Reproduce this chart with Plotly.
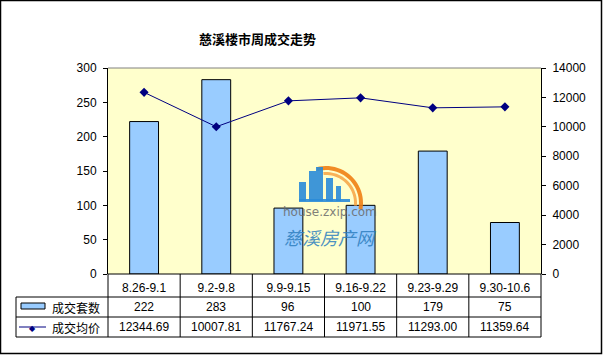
import plotly.graph_objects as go

categories = ["8.26-9.1", "9.2-9.8", "9.9-9.15", "9.16-9.22", "9.23-9.29", "9.30-10.6"]
units_sold = [222, 283, 96, 100, 179, 75]
avg_price = [12344.69, 10007.81, 11767.24, 11971.55, 11293.00, 11359.64]
price_labels = ["12344.69", "10007.81", "11767.24", "11971.55", "11293.00", "11359.64"]
series_names = ["成交套数", "成交均价"]
title_text = "慈溪楼市周成交走势"

W, H = 603, 355
L, R, T, B = 108, 541, 68, 274
NUM_FONT = "Liberation Sans, Arial, sans-serif"
CJK_FONT = "Noto Sans CJK SC, sans-serif"


def px(x):
    return (x - L) / (R - L)


def py(y):
    return (B - y) / (B - T)


fig = go.Figure()
fig.add_trace(go.Bar(
    x=categories, y=units_sold, name=series_names[0],
    marker=dict(color="#99CCFF", line=dict(color="#000000", width=1)),
    width=0.4, yaxis="y", showlegend=False,
))
fig.add_trace(go.Scatter(
    x=categories, y=avg_price, name=series_names[1], mode="lines+markers",
    line=dict(color="#000080", width=1),
    marker=dict(symbol="diamond", size=7, color="#000080"),
    yaxis="y2", showlegend=False,
))

shapes = []
# outer border
shapes.append(dict(type="rect", xref="paper", yref="paper", x0=px(0.5), x1=px(W - 1.5), y0=py(H - 1.5), y1=py(0.5),
                   line=dict(color="#000000", width=1.5), layer="below"))
# plot top border (gray)
shapes.append(dict(type="line", xref="paper", yref="paper", x0=0, x1=1, y0=1, y1=1,
                   line=dict(color="#808080", width=1)))
# table horizontal lines
row_y = [B, 297, 317, 337]
for i, yy in enumerate(row_y):
    x0 = L if i == 0 else 16
    shapes.append(dict(type="line", xref="paper", yref="paper", x0=px(x0), x1=px(R), y0=py(yy), y1=py(yy),
                       line=dict(color="#000000", width=1)))
# table vertical lines
n = len(categories)
for k in range(n + 1):
    xx = L + (R - L) * k / n
    shapes.append(dict(type="line", xref="paper", yref="paper", x0=px(xx), x1=px(xx), y0=py(B), y1=py(337),
                       line=dict(color="#000000", width=1)))
shapes.append(dict(type="line", xref="paper", yref="paper", x0=px(16), x1=px(16), y0=py(297), y1=py(337),
                   line=dict(color="#000000", width=1)))
# legend swatches
shapes.append(dict(type="rect", xref="paper", yref="paper", x0=px(21), x1=px(45), y0=py(309), y1=py(303),
                   fillcolor="#99CCFF", line=dict(color="#000000", width=1)))
shapes.append(dict(type="line", xref="paper", yref="paper", x0=px(19), x1=px(46), y0=py(327), y1=py(327),
                   line=dict(color="#000080", width=1)))

# watermark logo (decorative): orange arc + blue buildings
def arc_path(cx, cy, r_out, r_in, a0, a1, steps=24):
    import math
    pts_o = []
    pts_i = []
    for s in range(steps + 1):
        a = math.radians(a0 + (a1 - a0) * s / steps)
        pts_o.append((px(cx + r_out * math.cos(a)), py(cy - r_out * math.sin(a))))
        pts_i.append((px(cx + r_in * math.cos(a)), py(cy - r_in * math.sin(a))))
    pts = pts_o + pts_i[::-1]
    return "M " + " L ".join(f"{x:.5f},{y:.5f}" for x, y in pts) + " Z"

shapes.append(dict(type="path", xref="paper", yref="paper", path=arc_path(326, 203, 37, 33, -10, 105),
                   fillcolor="#F07F14", line=dict(width=0), opacity=0.9))
shapes.append(dict(type="path", xref="paper", yref="paper", path=arc_path(326, 203, 31, 28, -5, 95),
                   fillcolor="#F7A94A", line=dict(width=0), opacity=0.9))
for (x0, x1, y0, y1) in [(299, 306, 182, 201), (309, 316, 171, 201), (316, 323, 167, 201),
                         (326, 333, 178, 201), (336, 341, 186, 201), (299, 350, 199, 202)]:
    shapes.append(dict(type="rect", xref="paper", yref="paper", x0=px(x0), x1=px(x1), y0=py(y1), y1=py(y0),
                       fillcolor="#2A8BD8", line=dict(width=0), opacity=0.9))

annotations = []
annotations.append(dict(text="<b>" + title_text + "</b>", xref="paper", yref="paper", x=px(257), y=py(38),
                        showarrow=False, font=dict(family=CJK_FONT, size=13, color="#000000"),
                        xanchor="center", yanchor="middle"))
# legend marker for line
annotations.append(dict(text="◆", xref="paper", yref="paper", x=px(32.5), y=py(327), showarrow=False,
                        font=dict(size=8, color="#000080"), xanchor="center", yanchor="middle"))
annotations.append(dict(text=series_names[0], xref="paper", yref="paper", x=px(50), y=py(307), showarrow=False,
                        font=dict(family=CJK_FONT, size=12, color="#000000"), xanchor="left", yanchor="middle"))
annotations.append(dict(text=series_names[1], xref="paper", yref="paper", x=px(50), y=py(327), showarrow=False,
                        font=dict(family=CJK_FONT, size=12, color="#000000"), xanchor="left", yanchor="middle"))
for c, u, p in zip(categories, units_sold, price_labels):
    annotations.append(dict(text=str(u), xref="x", yref="paper", x=c, y=py(307), showarrow=False,
                            font=dict(family=NUM_FONT, size=12, color="#000000"), xanchor="center", yanchor="middle"))
    annotations.append(dict(text=p, xref="x", yref="paper", x=c, y=py(327), showarrow=False,
                            font=dict(family=NUM_FONT, size=12, color="#000000"), xanchor="center", yanchor="middle"))
# watermark text
annotations.append(dict(text="house.zxip.com", xref="paper", yref="paper", x=px(330), y=py(212), showarrow=False,
                        font=dict(family="DejaVu Sans, sans-serif", size=12, color="#6a6a6a"),
                        xanchor="center", yanchor="middle", opacity=0.85))
annotations.append(dict(text="<i>慈溪房产网</i>", xref="paper", yref="paper", x=px(330), y=py(237), showarrow=False,
                        font=dict(family=CJK_FONT, size=18, color="#2f7fc0"),
                        xanchor="center", yanchor="middle", opacity=0.85))

fig.update_layout(
    width=W, height=H,
    margin=dict(l=L, r=W - R, t=T, b=H - B),
    paper_bgcolor="#FFFFFF",
    plot_bgcolor="#FFFFCC",
    bargap=0.6,
    shapes=shapes,
    annotations=annotations,
    xaxis=dict(
        type="category", showgrid=False, zeroline=False, showline=False,
        ticks="", tickfont=dict(family=NUM_FONT, size=12, color="#000000"),
        ticklabelstandoff=5,
    ),
    yaxis=dict(
        range=[0, 300], dtick=50, showgrid=False, zeroline=False,
        showline=True, linecolor="#000000", linewidth=1,
        ticks="outside", ticklen=4, tickcolor="#000000",
        tickfont=dict(family=NUM_FONT, size=12, color="#000000"),
        ticklabelstandoff=4,
    ),
    yaxis2=dict(
        range=[0, 14000], dtick=2000, overlaying="y", side="right",
        tickformat="d",
        showgrid=False, zeroline=False,
        showline=True, linecolor="#000000", linewidth=1,
        ticks="outside", ticklen=4, tickcolor="#000000",
        tickfont=dict(family=NUM_FONT, size=12, color="#000000"),
        ticklabelstandoff=4,
    ),
)

fig.write_html("out.html")
